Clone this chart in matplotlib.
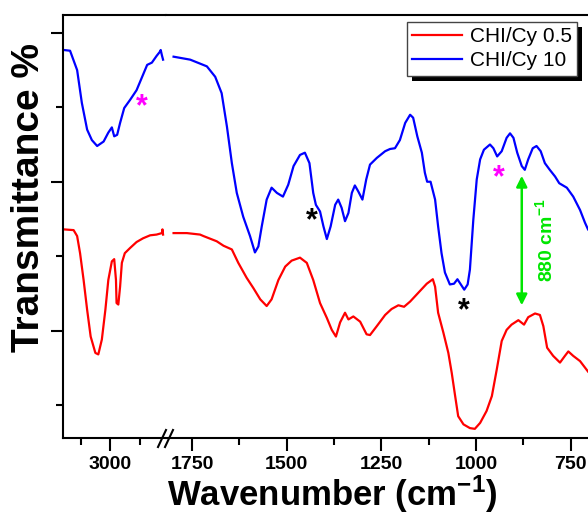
import matplotlib
matplotlib.use('Agg')
import matplotlib.pyplot as plt
import matplotlib.patheffects as pe

plt.rcParams['font.family'] = 'Liberation Sans'
plt.rcParams['mathtext.fontset'] = 'custom'
plt.rcParams['mathtext.rm'] = 'Liberation Sans'
plt.rcParams['mathtext.bf'] = 'Liberation Sans:bold'
plt.rcParams['mathtext.default'] = 'bf'

# CHI/Cy 10 (blue), high wavenumber part
blue_hi_wn = [3079, 3068, 3056, 3048, 3039, 3031, 3022, 3011, 3003, 2997, 2993, 2988,
              2983, 2976, 2966, 2955, 2946, 2937, 2929, 2921, 2915, 2914, 2912, 2910]
blue_hi_t = [57.7, 57.6, 55.0, 50.6, 47.0, 45.6, 44.8, 45.4, 46.6, 47.3, 46.1, 46.3,
             47.9, 49.9, 51.0, 52.3, 54.0, 55.7, 56.0, 56.9, 57.5, 57.7, 57.0, 56.4]
# CHI/Cy 10 (blue), fingerprint part
blue_lo_wn = [1799, 1755, 1711, 1689, 1672, 1658, 1645, 1632, 1615, 1597, 1584, 1575,
              1566, 1553, 1540, 1526, 1510, 1496, 1482, 1465, 1452, 1440, 1430, 1423,
              1412, 1403, 1394, 1384, 1372, 1364, 1355, 1346, 1337, 1328, 1320, 1311,
              1300, 1290, 1280, 1262, 1240, 1227, 1214, 1201, 1187, 1174, 1166, 1155,
              1143, 1135, 1129, 1120, 1108, 1100, 1091, 1082, 1069, 1058, 1049, 1040,
              1031, 1022, 1016, 1007, 998, 989, 979, 963, 954, 944, 932, 919, 910, 901,
              891, 879, 871, 862, 850, 840, 829, 818, 805, 791, 780, 760, 743, 725, 712, 704]
blue_lo_t = [56.8, 56.4, 55.5, 54.1, 51.9, 47.4, 42.5, 38.5, 35.3, 32.7, 30.5, 31.3,
             34.0, 37.6, 39.2, 38.5, 38.0, 39.6, 42.1, 43.6, 43.9, 42.5, 38.5, 36.9,
             36.0, 34.0, 32.3, 34.0, 36.9, 37.6, 36.5, 34.7, 35.8, 38.5, 39.5, 38.7,
             37.6, 40.3, 42.3, 43.2, 44.1, 44.4, 44.5, 45.6, 47.9, 49.0, 48.6, 46.1,
             43.9, 41.2, 40.0, 40.0, 37.6, 34.0, 30.4, 27.8, 26.2, 26.3, 26.9, 26.2,
             25.5, 26.2, 28.2, 34.9, 40.3, 43.0, 44.3, 45.0, 44.5, 43.4, 44.1, 45.9, 46.5, 45.9,
             43.9, 42.1, 41.6, 43.0, 44.5, 44.8, 44.1, 42.5, 41.6, 40.7, 39.8, 39.2, 38.0, 36.2, 34.5, 33.6]

# CHI/Cy 0.5 (red)
red_hi_wn = [3079, 3062, 3056, 3051, 3045, 3039, 3033, 3025, 3020, 3014, 3008, 3003,
             2997, 2993, 2990, 2989, 2986, 2983, 2980, 2975, 2966, 2955, 2944, 2932,
             2921, 2912, 2911, 2910]
red_hi_t = [33.6, 33.5, 32.7, 30.4, 26.8, 22.8, 19.2, 17.0, 16.8, 18.8, 22.8, 26.8,
            29.3, 29.6, 26.8, 23.7, 23.5, 25.9, 29.1, 30.4, 31.1, 31.9, 32.4, 32.8,
            32.9, 33.1, 33.6, 32.9]
red_lo_wn = [1799, 1764, 1729, 1720, 1685, 1667, 1645, 1628, 1606, 1588, 1570, 1553,
             1540, 1522, 1504, 1487, 1465, 1447, 1430, 1412, 1394, 1381, 1370, 1359,
             1346, 1337, 1324, 1306, 1289, 1280, 1262, 1240, 1223, 1205, 1190, 1174,
             1152, 1130, 1114, 1108, 1100, 1086, 1073, 1064, 1055, 1047, 1033, 1016,
             1003, 989, 972, 958, 945, 932, 919, 906, 888, 873, 862, 844, 831, 822,
             812, 796, 778, 765, 756, 743, 725, 704]
red_lo_t = [33.1, 33.1, 32.9, 32.7, 32.0, 31.4, 30.9, 29.1, 27.1, 25.7, 24.2, 23.3,
            24.2, 26.8, 28.6, 29.4, 29.8, 29.1, 26.8, 23.7, 21.7, 20.1, 19.2, 21.1,
            22.4, 21.5, 21.9, 21.2, 19.5, 19.4, 20.6, 22.1, 22.9, 23.4, 23.2, 23.9,
            25.1, 26.3, 26.9, 25.9, 22.4, 19.7, 17.0, 14.3, 11.2, 8.5, 7.4, 6.9,
            6.8, 7.6, 9.2, 11.2, 14.8, 18.6, 20.1, 20.8, 21.4, 20.8, 21.8, 22.3, 22.1, 20.6,
            17.7, 16.6, 15.7, 16.6, 17.2, 16.6, 15.9, 14.5]

labels = ['CHI/Cy 0.5', 'CHI/Cy 10']
RED = '#ff0000'
BLUE = '#0000ff'
MAG = '#ff00ff'
GREEN = '#00e600'

fig = plt.figure(figsize=(5.88, 5.16), dpi=100)
ax1 = fig.add_axes([63 / 588, 78 / 516, 103 / 588, 423 / 516])
ax2 = fig.add_axes([166 / 588, 78 / 516, 422 / 588, 423 / 516], sharey=ax1)

lw = 1.6
ax1.plot(red_hi_wn, red_hi_t, color=RED, lw=lw)
ax1.plot(blue_hi_wn, blue_hi_t, color=BLUE, lw=lw)
ax2.plot(red_lo_wn, red_lo_t, color=RED, lw=lw, label=labels[0])
ax2.plot(blue_lo_wn, blue_lo_t, color=BLUE, lw=lw, label=labels[1])

ax1.set_xlim(3080, 2905)
ax2.set_xlim(1819, 704)
ax1.set_ylim(5.57, 62.4)

ax1.set_xticks([3000])
ax1.set_xticks([3050, 2950], minor=True)
ax2.set_xticks([1750, 1500, 1250, 1000, 750])
ax2.set_xticks([1625, 1375, 1125, 875], minor=True)
ax1.set_yticks([20, 40, 60])
ax1.set_yticks([10, 30, 50], minor=True)

for ax in (ax1, ax2):
    for s in ax.spines.values():
        s.set_linewidth(1.5)
    ax.spines['right'].set_visible(False)
    ax.tick_params(which='major', direction='out', length=9, width=1.5,
                   labelsize=14, pad=4)
    ax.tick_params(which='minor', direction='out', length=5, width=1.5)
    for t in ax.get_xticklabels():
        t.set_fontweight('bold')
ax1.tick_params(axis='y', labelleft=False)
ax2.spines['left'].set_visible(False)
ax2.tick_params(axis='y', which='both', left=False, labelleft=False)

# axis break marks
for dx in (-4, 3):
    fig.add_artist(plt.Line2D([(162 + dx) / 588, (170 + dx) / 588],
                              [(516 - 447) / 516, (516 - 430) / 516],
                              color='black', lw=1.5))

# stars
star = dict(fontsize=22, fontweight='bold', ha='center', va='center',
            textcoords='offset points', xytext=(0, -5))
ax1.annotate('*', xy=(2946, 51.0), color=MAG, **star)
ax2.annotate('*', xy=(1434, 35.6), color='black', **star)
ax2.annotate('*', xy=(939, 41.4), color=MAG, **star)
ax2.annotate('*', xy=(1033, 23.5), color='black', **star)

# 880 arrow
ax2.annotate('', xy=(879, 40.8), xytext=(879, 23.4),
             arrowprops=dict(arrowstyle='<|-|>', color=GREEN, lw=1.8,
                             mutation_scale=16, shrinkA=0, shrinkB=0))
ax2.text(818, 32.2, '880 cm$^{-1}$', color=GREEN, fontsize=14, fontweight='bold',
         rotation=90, ha='center', va='center')

leg = ax2.legend(loc='upper right', bbox_to_anchor=(577 / 588, 1 - 22 / 516),
                 bbox_transform=fig.transFigure, borderaxespad=0, fontsize=15,
                 fancybox=False, frameon=True, handlelength=2.4, handletextpad=0.35,
                 labelspacing=0.25, borderpad=0.25)
leg.get_frame().set_edgecolor('#444444')
leg.get_frame().set_linewidth(1.0)
leg.get_frame().set_alpha(1)
leg.get_frame().set_path_effects([pe.SimplePatchShadow(offset=(3.6, -3.6),
                                                       shadow_rgbFace='black', alpha=1),
                                  pe.Normal()])

fig.text(332 / 588, (516 - 506) / 516, 'Wavenumber (cm$^{-1}$)', fontsize=25,
         fontweight='bold', ha='center', va='baseline')
fig.text(29 / 588, 1 - 197 / 516, 'Transmittance %', fontsize=28, fontweight='bold',
         rotation=90, ha='center', va='center')

fig.savefig('out.png', dpi=100)
